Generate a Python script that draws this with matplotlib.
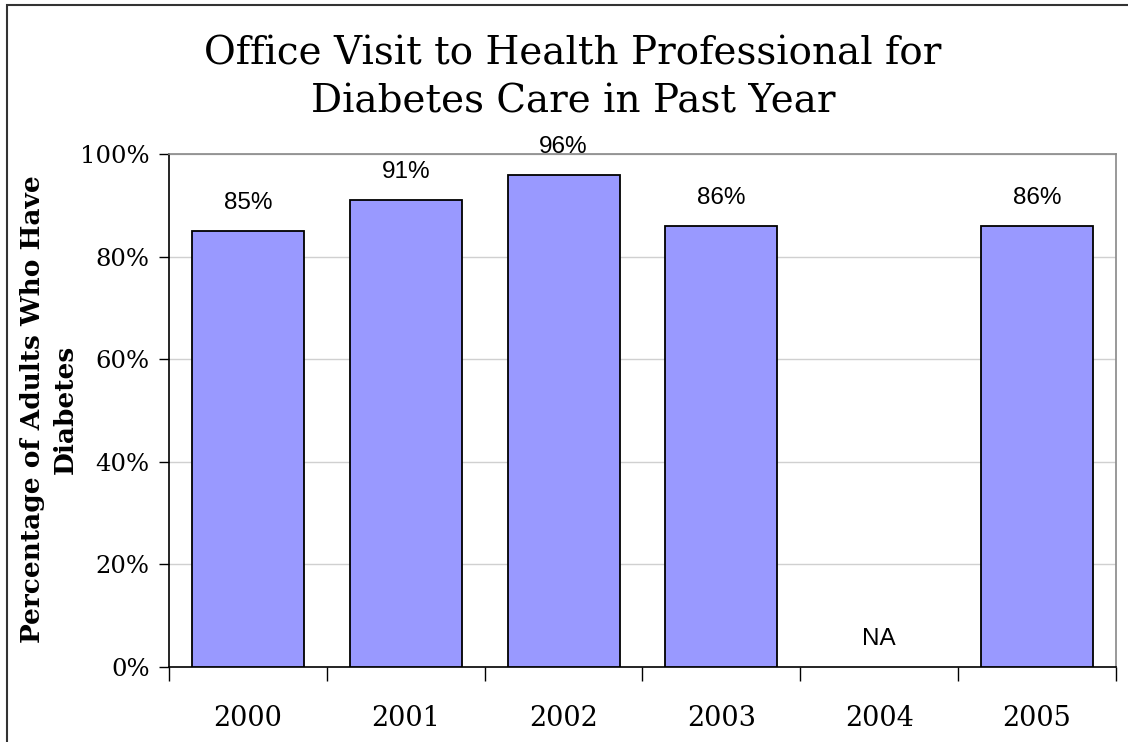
import matplotlib.pyplot as plt
from matplotlib.patches import Rectangle

years = ["2000", "2001", "2002", "2003", "2004", "2005"]
values = [85, 91, 96, 86, None, 86]
labels = ["85%", "91%", "96%", "86%", "NA", "86%"]
yticks = [0, 20, 40, 60, 80, 100]

W, H = 1128, 742
fig = plt.figure(figsize=(W / 100, H / 100), dpi=100)
ax = fig.add_axes([169 / W, 1 - 667 / H, (1116 - 169) / W, (667 - 154) / H])

x = list(range(len(years)))
heights = [v if v is not None else 0 for v in values]
for xi, v in zip(x, values):
    if v is not None:
        ax.bar(xi, v, width=0.71, color="#9999FF", edgecolor="black",
               linewidth=1.3, zorder=3)

# value labels sit a fixed distance above the bar top (or the baseline for NA)
for xi, h, lab in zip(x, heights, labels):
    ax.annotate(lab, (xi, h), xytext=(0, 20), textcoords="offset points",
                ha="center", va="center", fontsize=17.5,
                family="Liberation Sans", zorder=4)

ax.set_xlim(-0.5, len(years) - 0.5)
ax.set_ylim(0, 100)
ax.set_yticks(yticks)
ax.set_yticklabels([f"{t}%" for t in yticks], family="DejaVu Serif", fontsize=17.5)
ax.yaxis.grid(True, color="#d0d0d0", linewidth=1, zorder=0)
ax.tick_params(axis="y", length=7, width=1, direction="out", pad=7)

# category ticks at boundaries, labels centered under each bar
ax.set_xticks([i - 0.5 for i in range(len(years) + 1)])
ax.set_xticklabels([])
ax.set_xticks(x, minor=True)
ax.set_xticklabels(years, minor=True, family="DejaVu Serif", fontsize=19.5)
ax.tick_params(axis="x", which="major", length=10, width=1, direction="out")
ax.tick_params(axis="x", which="minor", length=0, pad=27)

for side in ("left", "bottom"):
    ax.spines[side].set_color("black")
    ax.spines[side].set_linewidth(1.2)
for side in ("top", "right"):
    ax.spines[side].set_color("#888888")
    ax.spines[side].set_linewidth(1.2)

fig.text(49 / W, 1 - 409 / H, "Percentage of Adults Who Have\nDiabetes",
         rotation=90, ha="center", va="center", multialignment="center",
         family="DejaVu Serif", fontsize=19, fontweight="bold", linespacing=1.35)

fig.text(573 / W, 1 - 78 / H,
         "Office Visit to Health Professional for\nDiabetes Care in Past Year",
         ha="center", va="center", family="DejaVu Serif", fontsize=28,
         linespacing=1.35)

# outer frame, running off the right and bottom edges
fig.patches.append(Rectangle((7 / W, -0.05), 1.1, 1 - 5 / H + 0.05,
                             transform=fig.transFigure, fill=False,
                             edgecolor="#333333", linewidth=1.5))

fig.savefig("out.png", dpi=100)
